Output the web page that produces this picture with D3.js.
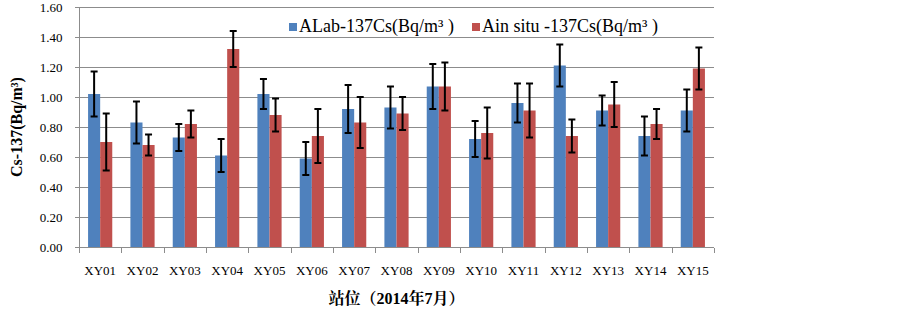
<!DOCTYPE html>
<html lang="zh">
<head>
    <meta charset="UTF-8">
    <title>Cs-137</title>
    <style>
        body{ margin:0; background:#fff; }
        text{ font-family:"Liberation Serif","Times New Roman",serif; }
        .grid line{ stroke:#8c8c8c; stroke-width:1; shape-rendering:crispEdges; }
        .axis path, .axis line{ fill:none; stroke:#8c8c8c; shape-rendering:crispEdges; }
        .axis text{ font-size:13px; fill:#000; }
        .err{ stroke:#000; stroke-width:2; }
    </style>
</head>
<body>
<svg width="903" height="309"></svg>
<script src="https://d3js.org/d3.v7.min.js"></script>
<script>
    var sites = ["XY01","XY02","XY03","XY04","XY05","XY06","XY07","XY08","XY09","XY10","XY11","XY12","XY13","XY14","XY15"];
    var seriesNames = ["ALab-137Cs(Bq/m\u00b3 )", "Ain situ -137Cs(Bq/m\u00b3 )"];
    var labValues   = [1.02,0.83,0.73,0.61,1.02,0.59,0.92,0.93,1.07,0.72,0.96,1.21,0.91,0.74,0.91];
    var labErrors   = [0.15,0.14,0.09,0.11,0.10,0.11,0.16,0.14,0.15,0.12,0.13,0.14,0.10,0.13,0.14];
    var insituValues = [0.70,0.68,0.82,1.32,0.88,0.74,0.83,0.89,1.07,0.76,0.91,0.74,0.95,0.82,1.19];
    var insituErrors = [0.19,0.07,0.09,0.12,0.11,0.18,0.17,0.11,0.16,0.17,0.18,0.11,0.15,0.10,0.14];
    var yTicks = [0,0.2,0.4,0.6,0.8,1.0,1.2,1.4,1.6];
    var colors = ["#4f81bd","#c0504d"];

    var svg = d3.select("svg"),
        margin = {top: 7, right: 189, bottom: 62, left: 79},
        width = +svg.attr("width") - margin.left - margin.right,
        height = +svg.attr("height") - margin.top - margin.bottom;

    var g = svg.append("g").attr("transform", "translate(" + margin.left + "," + margin.top + ")");

    // excel style: gap width 150% of one bar
    var x = d3.scaleBand().domain(sites).range([0, width]).paddingInner(1.5 / 3.5).paddingOuter(0.75 / 3.5);
    var xb = d3.scaleBand().domain(sites).range([0, width]);
    var x1 = d3.scaleBand().domain([0,1]).range([0, x.bandwidth()]);
    var y = d3.scaleLinear().domain([0, 1.6]).range([height, 0]);

    // gridlines
    g.append("g").attr("class","grid")
        .selectAll("line").data(yTicks.slice(1)).enter().append("line")
        .attr("x1", 0).attr("x2", width)
        .attr("y1", function(d){ return Math.round(y(d)) + 0.5; })
        .attr("y2", function(d){ return Math.round(y(d)) + 0.5; });

    var data = sites.map(function(s, i){
        return {site: s, vals: [
            {k:0, v: labValues[i], e: labErrors[i]},
            {k:1, v: insituValues[i], e: insituErrors[i]}
        ]};
    });

    var grp = g.selectAll(".site").data(data).enter().append("g")
        .attr("transform", function(d){ return "translate(" + x(d.site) + ",0)"; });

    grp.selectAll("rect").data(function(d){ return d.vals; }).enter().append("rect")
        .attr("x", function(d){ return x1(d.k); })
        .attr("width", x1.bandwidth())
        .attr("y", function(d){ return y(d.v); })
        .attr("height", function(d){ return y(0) - y(d.v); })
        .attr("fill", function(d){ return colors[d.k]; });

    var err = grp.selectAll(".errg").data(function(d){ return d.vals; }).enter().append("g")
        .attr("class","err")
        .attr("transform", function(d){ return "translate(" + (x1(d.k) + x1.bandwidth()/2) + ",0)"; });
    err.append("line").attr("x1",0).attr("x2",0)
        .attr("y1", function(d){ return y(d.v + d.e); })
        .attr("y2", function(d){ return y(d.v - d.e); });
    err.append("line").attr("x1",-3.5).attr("x2",3.5)
        .attr("y1", function(d){ return y(d.v + d.e); })
        .attr("y2", function(d){ return y(d.v + d.e); });
    err.append("line").attr("x1",-3.5).attr("x2",3.5)
        .attr("y1", function(d){ return y(d.v - d.e); })
        .attr("y2", function(d){ return y(d.v - d.e); });

    // y axis
    g.append("g").attr("class","axis")
        .attr("transform","translate(-0.5,0)")
        .call(d3.axisLeft(y).tickValues(yTicks).tickFormat(d3.format(".2f")).tickSizeOuter(0).tickSize(4).tickPadding(12));

    // x axis
    var xa = g.append("g").attr("class","axis")
        .attr("transform","translate(0," + (height + 0.5) + ")");
    xa.append("line").attr("x1",0).attr("x2",width);
    xa.selectAll(".tk").data(sites.concat(["end"])).enter().append("line")
        .attr("x1", function(d, i){ return Math.round(i * xb.step()) + 0.5; })
        .attr("x2", function(d, i){ return Math.round(i * xb.step()) + 0.5; })
        .attr("y1", 0).attr("y2", 5);
    xa.selectAll("text").data(sites).enter().append("text")
        .attr("x", function(d){ return xb(d) + xb.bandwidth()/2; })
        .attr("y", 27)
        .attr("text-anchor","middle")
        .style("font-size","13px")
        .text(function(d){ return d; });

    // axis titles
    svg.append("text")
        .attr("transform","translate(22," + (margin.top + height/2) + ") rotate(-90)")
        .attr("text-anchor","middle")
        .style("font-size","16px").style("font-weight","bold")
        .text("Cs-137(Bq/m\u00b3)");

    svg.append("text")
        .attr("x", margin.left + width/2)
        .attr("y", 304)
        .attr("text-anchor","middle")
        .style("font-size","16px").style("font-weight","bold")
        .style("font-family","'Liberation Serif','Noto Serif CJK SC','Noto Sans CJK SC',serif")
        .text("站位（2014年7月）");

    // legend
    var leg = svg.append("g").attr("transform","translate(289,0)");
    var legX = [0, 183];
    seriesNames.forEach(function(n, i){
        leg.append("rect").attr("x", legX[i]).attr("y", 23).attr("width", 8).attr("height", 8).attr("fill", colors[i]);
        leg.append("text").attr("x", legX[i] + 10).attr("y", 32)
            .style("font-size","18px").text(n);
    });
</script>
</body>
</html>
